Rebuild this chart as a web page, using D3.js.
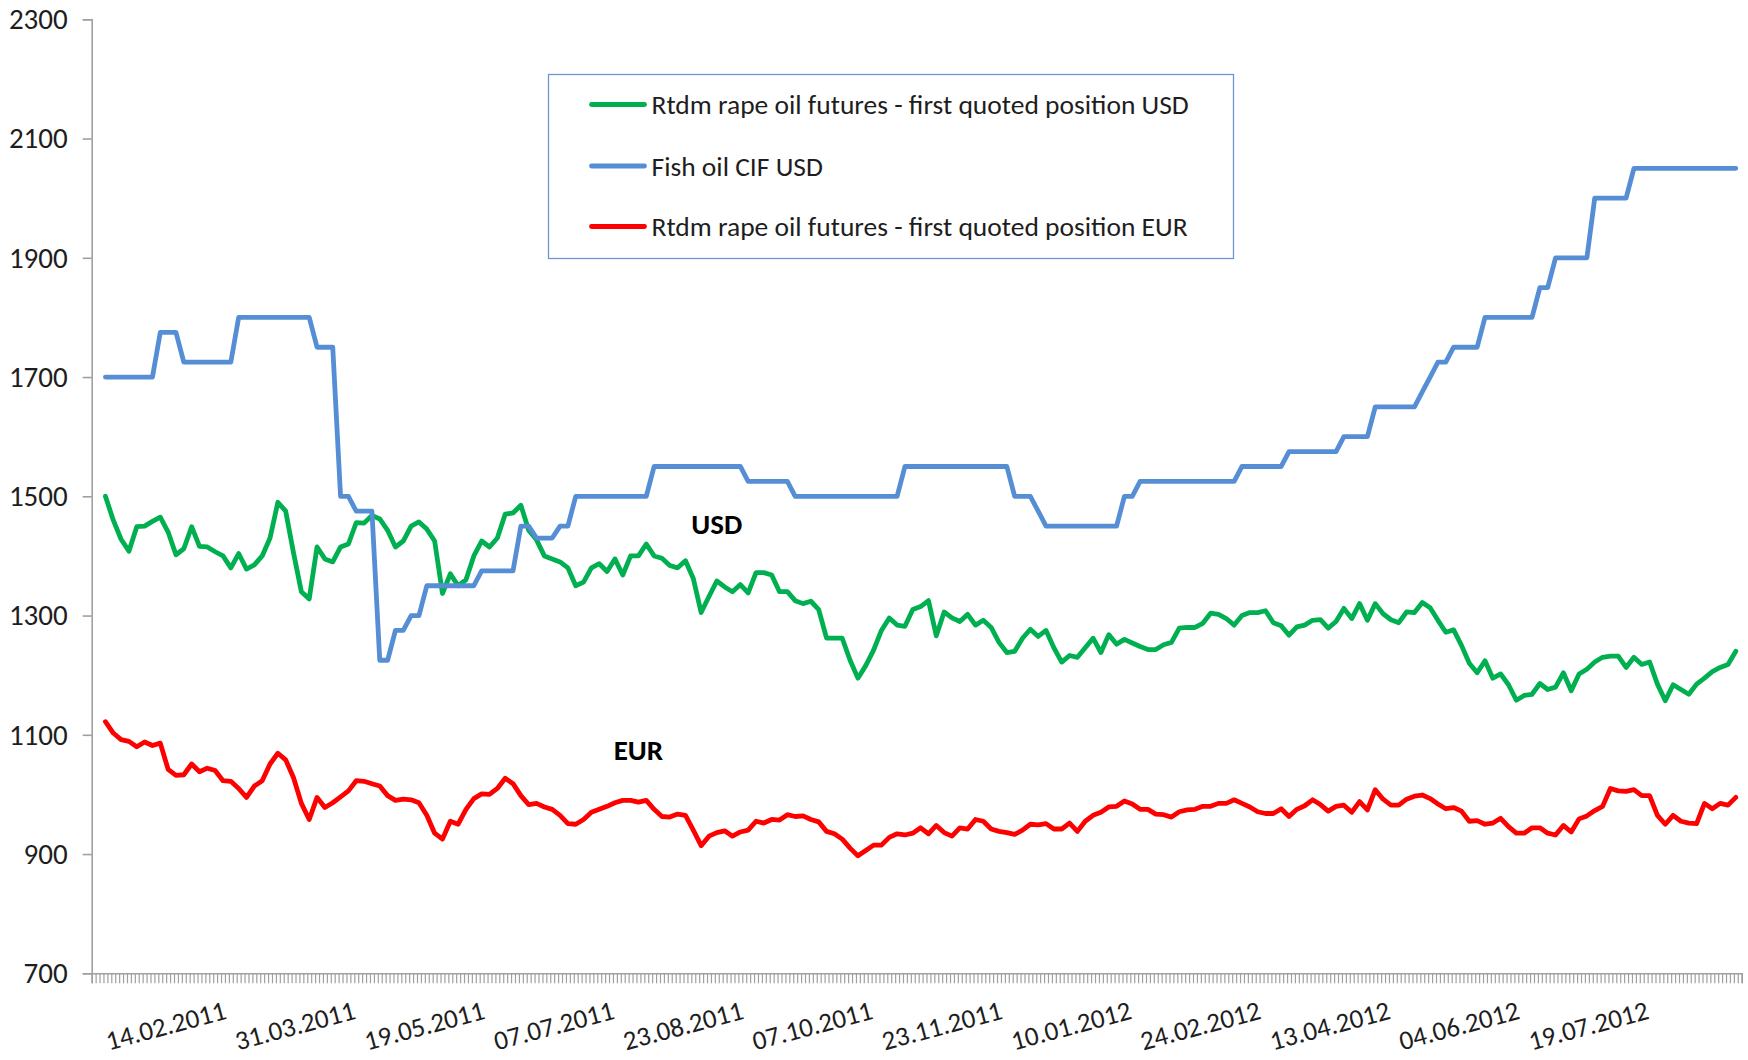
<!DOCTYPE html>
<html>
<head>
<meta charset="utf-8">
<script src="https://cdn.jsdelivr.net/npm/d3@7"></script>
<style>
  html, body { margin: 0; padding: 0; background: #ffffff; }
  svg { display: block; }
</style>
</head>
<body>
<svg id="chart" width="1748" height="1060"></svg>
<script>
// ---------------- DATA ----------------
const yTickValues = [700, 900, 1100, 1300, 1500, 1700, 1900, 2100, 2300];
const xTickLabels = ["14.02.2011", "31.03.2011", "19.05.2011", "07.07.2011", "23.08.2011", "07.10.2011",
                     "23.11.2011", "10.01.2012", "24.02.2012", "13.04.2012", "04.06.2012", "19.07.2012"];
const categoryCount = 421;      // trading days on the category axis
const labelEvery = 33;          // a date label every 33 categories
const firstDataCategory = 3;    // series start at this category
const dataStep = 2;             // values below are read every 2nd category

const seriesNames = ["Rtdm rape oil futures - first quoted position USD",
                     "Fish oil CIF USD",
                     "Rtdm rape oil futures - first quoted position EUR"];
const annotationLabels = ["USD", "EUR"];

const rapeOilUSD = [
  1500,1460,1428,1408,1449,1450,1458,1465,1440,1402,
  1412,1449,1416,1415,1407,1400,1380,1404,1378,1385,
  1400,1430,1490,1475,1405,1340,1328,1415,1395,1390,
  1415,1420,1456,1455,1468,1462,1443,1415,1425,1450,
  1457,1445,1425,1337,1370,1350,1360,1400,1425,1415,
  1430,1470,1472,1485,1443,1427,1400,1395,1390,1380,
  1350,1356,1380,1387,1374,1395,1368,1400,1400,1420,
  1400,1396,1384,1380,1392,1362,1305,1332,1358,1348,
  1340,1352,1338,1372,1372,1368,1340,1340,1325,1320,
  1324,1310,1262,1262,1262,1225,1195,1216,1242,1275,
  1296,1284,1282,1310,1315,1325,1266,1306,1296,1290,
  1302,1284,1292,1280,1255,1238,1240,1262,1277,1265,
  1275,1246,1222,1233,1230,1246,1262,1238,1268,1252,
  1260,1254,1248,1243,1243,1251,1255,1279,1280,1280,
  1287,1304,1302,1295,1284,1300,1305,1305,1308,1288,
  1283,1267,1281,1284,1292,1293,1279,1290,1312,1295,
  1320,1292,1320,1303,1293,1288,1306,1305,1322,1313,
  1292,1272,1276,1250,1220,1204,1224,1195,1202,1184,
  1158,1166,1168,1186,1176,1180,1204,1174,1202,1210,
  1222,1230,1232,1232,1213,1230,1218,1222,1185,1157,
  1184,1176,1168,1185,1195,1206,1213,1218,1240
];

const fishOilUSD = [
  1700,1700,1700,1700,1700,1700,1700,1775,1775,1775,
  1725,1725,1725,1725,1725,1725,1725,1800,1800,1800,
  1800,1800,1800,1800,1800,1800,1800,1750,1750,1750,
  1500,1500,1475,1475,1475,1225,1225,1275,1275,1300,
  1300,1350,1350,1350,1350,1350,1350,1350,1375,1375,
  1375,1375,1375,1450,1450,1430,1430,1430,1450,1450,
  1500,1500,1500,1500,1500,1500,1500,1500,1500,1500,
  1550,1550,1550,1550,1550,1550,1550,1550,1550,1550,
  1550,1550,1525,1525,1525,1525,1525,1525,1500,1500,
  1500,1500,1500,1500,1500,1500,1500,1500,1500,1500,
  1500,1500,1550,1550,1550,1550,1550,1550,1550,1550,
  1550,1550,1550,1550,1550,1550,1500,1500,1500,1475,
  1450,1450,1450,1450,1450,1450,1450,1450,1450,1450,
  1500,1500,1525,1525,1525,1525,1525,1525,1525,1525,
  1525,1525,1525,1525,1525,1550,1550,1550,1550,1550,
  1550,1575,1575,1575,1575,1575,1575,1575,1600,1600,
  1600,1600,1650,1650,1650,1650,1650,1650,1675,1700,
  1725,1725,1750,1750,1750,1750,1800,1800,1800,1800,
  1800,1800,1800,1850,1850,1900,1900,1900,1900,1900,
  2000,2000,2000,2000,2000,2050,2050,2050,2050,2050,
  2050,2050,2050,2050,2050,2050,2050,2050,2050
];

const rapeOilEUR = [
  1122,1103,1092,1089,1080,1088,1082,1086,1042,1032,
  1033,1051,1038,1044,1040,1023,1022,1010,995,1014,
  1023,1051,1069,1058,1028,985,958,995,978,986,
  996,1006,1023,1022,1018,1014,998,990,992,991,
  986,965,935,925,955,950,975,993,1001,1000,
  1010,1027,1018,998,983,985,979,975,965,951,
  950,958,970,975,980,986,990,990,987,990,
  975,963,962,967,965,940,914,930,936,939,
  930,937,940,955,952,958,957,966,963,964,
  958,954,938,934,925,910,897,906,915,915,
  928,934,932,935,944,934,948,936,930,944,
  942,958,955,942,938,936,933,940,950,949,
  951,942,942,952,938,955,965,970,979,980,
  989,984,975,975,967,966,962,971,974,975,
  980,980,985,985,991,985,979,971,968,968,
  976,963,975,981,991,983,972,980,982,970,
  988,974,1008,992,982,982,992,997,999,993,
  984,976,978,972,955,956,950,952,960,946,
  935,935,944,944,935,932,948,937,959,964,
  973,980,1010,1006,1005,1008,998,998,965,950,
  965,955,952,951,985,976,985,982,995
];

const seriesColors = ["#00B050", "#558ED5", "#FF0000"];

// ---------------- LAYOUT ----------------
const W = 1748, H = 1060;
const plot = { left: 91.7, right: 1741.7, top: 19.3, bottom: 973.3 };
const FONT = "Carlito, Calibri, Lato, 'Open Sans', sans-serif";
const axisColor = "#a0a0a0";
const textColor = "#1e1e1e";

const svg = d3.select("#chart");

const x = d3.scaleBand()
  .domain(d3.range(categoryCount))
  .range([plot.left, plot.right])
  .paddingInner(0).paddingOuter(0);
const xEdge = d3.scaleLinear().domain([0, categoryCount]).range([plot.left, plot.right]);
const y = d3.scaleLinear().domain([700, 2300]).range([plot.bottom, plot.top]);

const cx = cat => x(cat) + x.bandwidth() / 2;

// Y axis
const yAxis = svg.append("g")
  .attr("transform", `translate(${plot.left},0)`)
  .call(d3.axisLeft(y).tickValues(yTickValues).tickSize(9).tickPadding(15).tickFormat(d3.format("d")));
yAxis.select(".domain").attr("stroke", axisColor).attr("stroke-width", 1.6);
yAxis.selectAll(".tick line").attr("stroke", axisColor).attr("stroke-width", 1.6);
yAxis.selectAll(".tick text")
  .attr("fill", textColor).style("font-family", FONT).style("font-size", "29px");

// X axis (tick marks between categories)
const xAxis = svg.append("g")
  .attr("transform", `translate(0,${plot.bottom})`)
  .call(d3.axisBottom(xEdge).tickValues(d3.range(categoryCount + 1)).tickSize(10).tickFormat(""));
xAxis.select(".domain").attr("stroke", axisColor).attr("stroke-width", 1.6);
xAxis.selectAll(".tick line").attr("stroke", axisColor).attr("stroke-width", 1.2);

// X labels (rotated, top-right end anchored at the labelled category)
svg.append("g").selectAll("text")
  .data(xTickLabels)
  .join("text")
  .attr("transform", (d, i) => `translate(${cx(labelEvery * (i + 1))},${plot.bottom + 28}) rotate(-15)`)
  .attr("text-anchor", "end")
  .attr("dy", "0.66em")
  .attr("fill", textColor)
  .style("font-family", FONT)
  .style("font-size", "27px")
  .text(d => d);

// Series
const seriesData = [rapeOilUSD, fishOilUSD, rapeOilEUR];
const line = d3.line()
  .x((d, i) => cx(firstDataCategory + i * dataStep))
  .y(d => y(d));

svg.append("g").selectAll("path")
  .data(seriesData)
  .join("path")
  .attr("d", d => line(d))
  .attr("fill", "none")
  .attr("stroke", (d, i) => seriesColors[i])
  .attr("stroke-width", 4.8)
  .attr("stroke-linejoin", "round")
  .attr("stroke-linecap", "round");

// Annotations
svg.append("text")
  .attr("x", cx(159)).attr("y", y(1453))
  .attr("text-anchor", "middle").attr("dy", "0.35em")
  .attr("fill", "#000").style("font-family", FONT).style("font-size", "29px").style("font-weight", "bold")
  .text(annotationLabels[0]);
svg.append("text")
  .attr("x", cx(139)).attr("y", y(1074))
  .attr("text-anchor", "middle").attr("dy", "0.35em")
  .attr("fill", "#000").style("font-family", FONT).style("font-size", "29px").style("font-weight", "bold")
  .text(annotationLabels[1]);

// Legend
const legend = svg.append("g").attr("transform", "translate(548.5,74.5)");
legend.append("rect")
  .attr("width", 685).attr("height", 184)
  .attr("fill", "#fff").attr("stroke", "#6f95d2").attr("stroke-width", 1.3);
const legendRowsY = [30, 91.5, 152];
const items = legend.selectAll("g.item")
  .data(seriesNames)
  .join("g").attr("class", "item")
  .attr("transform", (d, i) => `translate(0,${legendRowsY[i]})`);
items.append("line")
  .attr("x1", 43).attr("x2", 96).attr("y1", 0).attr("y2", 0)
  .attr("stroke", (d, i) => seriesColors[i])
  .attr("stroke-width", 4.8).attr("stroke-linecap", "round");
items.append("text")
  .attr("x", 103).attr("y", 0).attr("dy", "0.35em")
  .attr("fill", textColor)
  .style("font-family", FONT).style("font-size", "27.5px")
  .text(d => d);
</script>
</body>
</html>
